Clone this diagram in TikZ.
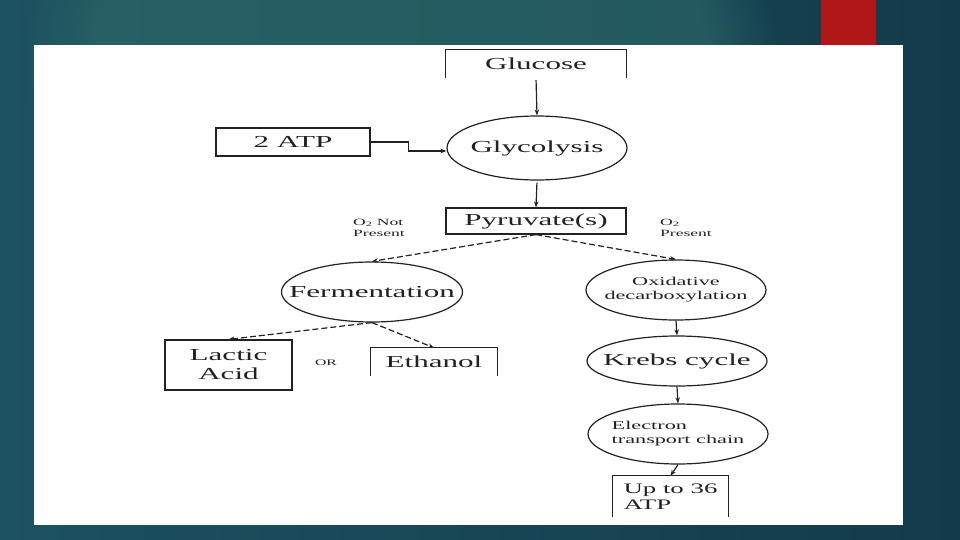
\documentclass[tikz,border=0pt]{standalone}
\usepackage{fontspec}
\setmainfont[FakeStretch=1.85]{Liberation Serif}
\usetikzlibrary{shapes.geometric,arrows.meta,fadings}
\definecolor{bgL}{HTML}{1D5260}
\definecolor{bgR}{HTML}{133A4A}
\definecolor{bgHi}{HTML}{2B6667}
\definecolor{redtab}{HTML}{B01818}
\definecolor{ink}{HTML}{222222}
\begin{document}
\begin{tikzpicture}[x=1pt,y=-1pt,
  every node/.style={text=ink, inner sep=0pt},
  every label/.style={text=ink, inner sep=0pt},
  boxnode/.style={rectangle, draw=ink, line width=1.2pt},
  openbox/.style={rectangle},
  ellnode/.style={ellipse, draw=ink, line width=1.2pt, minimum width=180pt},
  bigtxt/.style={font=\fontsize{16.8}{19}\selectfont},
  midtxt/.style={font=\fontsize{14.5}{16}\selectfont},
  smalltxt/.style={font=\fontsize{12}{14}\selectfont},
  tinytxt/.style={font=\fontsize{9.5}{11}\selectfont},
  flow/.style={draw=ink, line width=1.2pt, -{Stealth[length=6pt,width=4.5pt]}},
  dflow/.style={flow, dash pattern=on 6pt off 3pt},
  edge/.style={ink, line width=1.2pt}
]
\useasboundingbox (0,0) rectangle (960,540);
% background
\shade[left color=bgL, right color=bgR] (0,0) rectangle (960,540);
\fill[bgHi, path fading=circle with fuzzy edge 20 percent, fill opacity=0.7] (400,60) ellipse (380 and 260);
\fill[redtab] (821,0) rectangle (876,45);
\fill[white] (34,45) rectangle (903,525);

% nodes
\node[openbox, bigtxt, minimum width=180pt, minimum height=28pt] (glucose) at (536,64) {Glucose};
\draw[edge] (glucose.south west) -- (glucose.north west) -- (glucose.north east) -- (glucose.south east);
\node[boxnode, bigtxt, minimum width=154pt, minimum height=28pt] (atp2) at (293,142) {2 ATP};
\node[ellnode, minimum height=64pt, label={[bigtxt]center:Glycolysis}] (glyc) at (537,148) {};
\node[boxnode, bigtxt, minimum width=180pt, minimum height=26pt] (pyr) at (536,221) {Pyruvate(s)};
\node[tinytxt, align=left] (o2not) at (379,228) {O\textsubscript{2} Not\\Present};
\node[tinytxt, align=left] (o2yes) at (686,228) {O\textsubscript{2}\\Present};
\node[ellnode, minimum width=181pt, minimum height=60pt, label={[bigtxt]center:Fermentation}] (ferm) at (372,292) {};
\node[ellnode, minimum height=60pt, label={[smalltxt, align=center]center:Oxidative\\decarboxylation}] (oxid) at (676,290) {};
\node[boxnode, bigtxt, align=center, minimum width=127pt, minimum height=50pt] (lactic) at (228.5,365) {Lactic\\Acid};
\node[font=\fontsize{8.5}{10}\selectfont] (or) at (326,363) {OR};
\node[openbox, bigtxt, minimum width=126pt, minimum height=28pt] (ethanol) at (434,362) {Ethanol};
\draw[edge] (ethanol.south west) -- (ethanol.north west) -- (ethanol.north east) -- (ethanol.south east);
\node[ellnode, minimum height=50pt, label={[bigtxt]center:Krebs cycle}] (krebs) at (677,361) {};
\node[ellnode, minimum height=60pt, label={[smalltxt, align=left]center:Electron\\transport chain}] (etc) at (678,434) {};
\node[openbox, midtxt, align=left, minimum width=115pt, minimum height=41pt] (upto) at (670.5,496.5) {Up to 36\\ATP};
\draw[edge] (upto.south west) -- (upto.north west) -- (upto.north east) -- (upto.south east);

% connectors
\draw[flow, shorten <=2pt] (glucose.south) -- (glyc.north);
\draw[flow] (atp2.east) -- ++(38,0) |- ([yshift=-3pt]glyc.west);
\draw[flow, shorten <=2pt] (glyc.south) -- (pyr.north);
\draw[dflow] (pyr.south) -- (ferm.north);
\draw[dflow] (pyr.south) -- (oxid.north);
\draw[dflow] (ferm.south) -- (lactic.north);
\draw[dflow] (ferm.south) -- (ethanol.north);
\draw[flow] (oxid.south) -- (krebs.north);
\draw[flow] (krebs.south) -- (etc.north);
\draw[flow] (etc.south) -- (upto.north);
\end{tikzpicture}
\end{document}
